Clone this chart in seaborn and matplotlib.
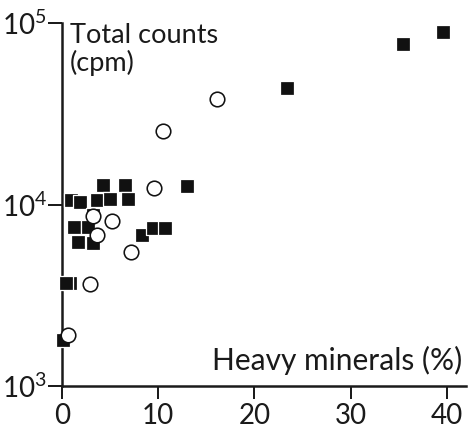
import matplotlib
matplotlib.use("Agg")
import matplotlib.pyplot as plt
import seaborn as sns
import pandas as pd
from matplotlib.ticker import FixedLocator, NullLocator
from matplotlib.patches import PathPatch
from matplotlib.path import Path

# Data
sq_x = [39.6, 35.4, 23.4, 13.0, 4.3, 6.5, 0.9, 1.9, 3.6, 5.0, 6.9, 3.2, 1.25, 2.7,
        1.7, 3.2, 8.3, 9.5, 10.7, 0.8, 0.4, 0.1]
sq_y = [89000, 76600, 43900, 12600, 12800, 12800, 10600, 10300, 10600, 10700, 10700,
        8750, 7520, 7520, 6200, 6130, 6790, 7420, 7420, 3690, 3690, 1790]
ci_x = [16.1, 10.5, 9.56, 3.2, 5.2, 3.6, 7.2, 2.9, 0.6]
ci_y = [38100, 25400, 12300, 8650, 8100, 6790, 5470, 3650, 1900]
x_ticks = [0, 10, 20, 30, 40]
y_ticks = [1e3, 1e4, 1e5]
y_tick_labels = [r"$\mathregular{10^{3}}$", r"$\mathregular{10^{4}}$", r"$\mathregular{10^{5}}$"]

INK = "#1a1a1a"
sns.set_style("ticks")
plt.rcParams.update({
    'font.family': ['Lato', 'DejaVu Sans'],
    'mathtext.fontset': 'custom',
    'mathtext.rm': 'Lato',
    'xtick.bottom': True,
    'ytick.left': True,
    'xtick.major.size': 9.5,
    'ytick.major.size': 10,
    'xtick.major.width': 1.3,
    'ytick.major.width': 1.3,
    'xtick.direction': 'out',
    'ytick.direction': 'out',
    'xtick.color': INK,
    'ytick.color': INK,
})

W, H = 468, 429
fig = plt.figure(figsize=(W / 100, H / 100), dpi=100)
ax_px = (62, 43, 466 - 62, 386 - 23)  # left, bottom, width, height in pixels
ax = fig.add_axes([ax_px[0] / W, ax_px[1] / H, ax_px[2] / W, ax_px[3] / H])

sq = pd.DataFrame({"x": sq_x, "y": sq_y})
ci = pd.DataFrame({"x": ci_x, "y": ci_y})

sns.scatterplot(data=sq, x="x", y="y", ax=ax, marker="s", s=100, color="#111111",
                edgecolor="white", linewidth=0.9, clip_on=False, zorder=3)
sns.scatterplot(data=ci, x="x", y="y", ax=ax, marker="o", s=110, facecolor="white",
                edgecolor="#111111", linewidth=1.15, clip_on=False, zorder=4)

ax.set_yscale("log")
ax.set_xlim(0, 42)
ax.set_ylim(1e3, 1e5)
ax.xaxis.set_major_locator(FixedLocator(x_ticks))
ax.set_xticklabels([str(t) for t in x_ticks])
ax.yaxis.set_major_locator(FixedLocator(y_ticks))
ax.yaxis.set_minor_locator(NullLocator())
ax.set_yticklabels(y_tick_labels)
ax.set_xlabel("")
ax.set_ylabel("")

for s in ["top", "right"]:
    ax.spines[s].set_visible(False)
for s in ["left", "bottom"]:
    ax.spines[s].set_linewidth(1.8)
    ax.spines[s].set_color(INK)

ax.tick_params(axis="both", which="major", bottom=True, left=True,
               labelsize=20, labelcolor=INK)
ax.tick_params(axis="x", pad=3)
ax.tick_params(axis="y", pad=1)

# tick marks drawn as stroked path patches (same style as the spines), at the tick positions
xlen = 13 / ax_px[3]
ylen = 14 / ax_px[2]
for t in x_ticks:
    ax.add_patch(PathPatch(Path([(t, 0), (t, -xlen)]), transform=ax.get_xaxis_transform(),
                           fill=False, edgecolor=INK, linewidth=1.3, clip_on=False, zorder=2))
for t in y_ticks:
    ax.add_patch(PathPatch(Path([(0, t), (-ylen, t)]), transform=ax.get_yaxis_transform(),
                           fill=False, edgecolor=INK, linewidth=1.3, clip_on=False, zorder=2))
ax.set_xlim(0, 42)
ax.set_ylim(1e3, 1e5)

ax.text(0.02, 1.0, "Total counts\n(cpm)", transform=ax.transAxes, ha="left", va="top",
        fontsize=19.5, color=INK, linespacing=1.08)
ax.text(0.99, 16 / ax_px[3], "Heavy minerals (%)", transform=ax.transAxes, ha="right",
        va="baseline", fontsize=21.5, color=INK)

fig.savefig("out.png", dpi=100)
